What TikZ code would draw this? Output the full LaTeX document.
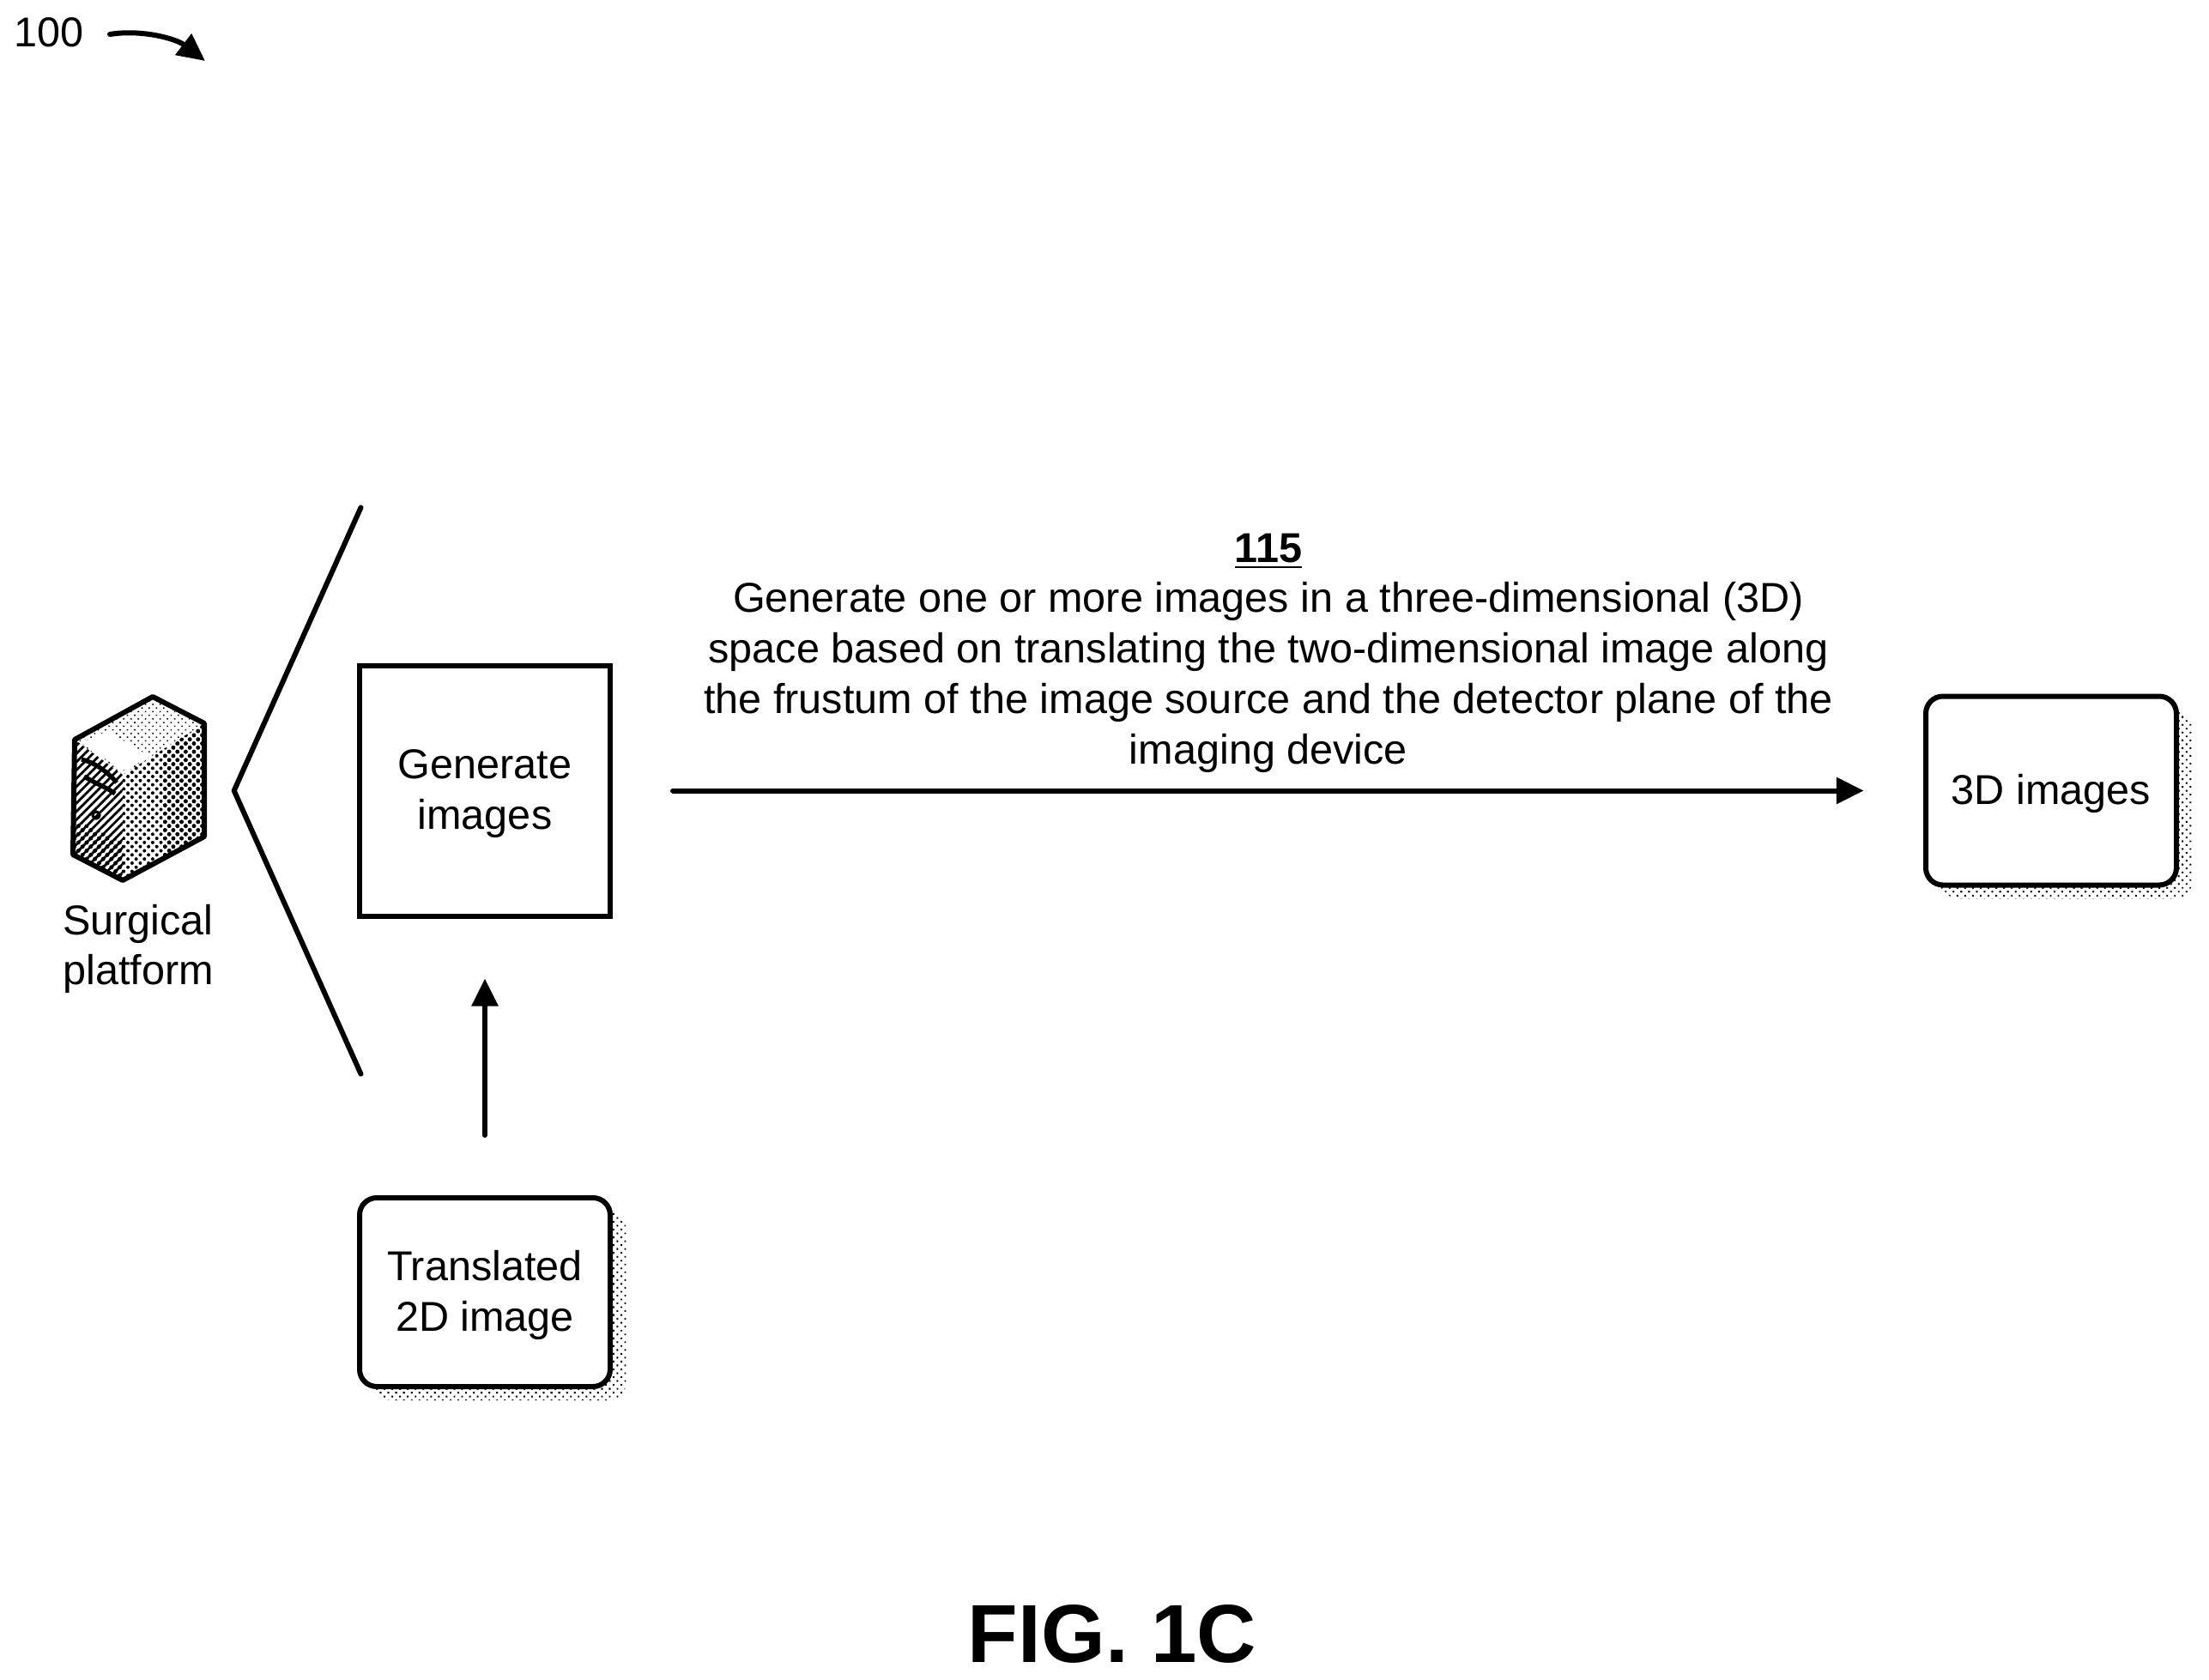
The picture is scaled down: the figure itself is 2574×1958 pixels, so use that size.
\documentclass[tikz,border=0pt]{standalone}
\usepackage{fontspec}
\setmainfont{Liberation Sans}
\usetikzlibrary{arrows.meta, patterns.meta, shadows}

\tikzset{
  lbl/.style={align=center, font=\fontsize{12.15}{14.7}\selectfont},
  boxlbl/.style={lbl, inner sep=0pt, text depth=0.9pt},
  halo/.style={pattern={Dots[distance=1.6pt, radius=0.33pt, angle=45]}},
  procbox/.style={draw, boxlbl, minimum width=73pt, minimum height=73pt},
  roundbox/.style={draw, boxlbl, fill=white, rounded corners=5pt, minimum width=73pt, minimum height=55pt,
    general shadow={shadow xshift=4.6pt, shadow yshift=-4pt, fill=none, halo},
    general shadow={shadow xshift=2.4pt, shadow yshift=-2.2pt, fill=none, halo}},
  flowarrow/.style={-{Triangle[length=8pt, width=7.5pt]}, line cap=round},
}

\begin{document}
\begin{tikzpicture}[x=0.25pt, y=-0.25pt, line width=1.5pt]

\useasboundingbox (0, 0) rectangle (2574, 1958);

% draw boxes
\node[procbox] (generate) at (565, 921.5) {Generate\\images};
\node[roundbox] (translated) at (565, 1506) {Translated\\2D image};
\node[roundbox] (result) at (2390, 921.5) {3D images};

% draw labels
\node[lbl] (refmain) at (57, 38) {100};
\node[lbl] (stepnote) at (1478, 761) {\underline{\textbf{115}}\\Generate one or more images in a three-dimensional (3D)\\space based on translating the two-dimensional image along\\the frustum of the image source and the detector plane of the\\imaging device};
\node[lbl] (platform) at (161, 1106) {Surgical\\platform};
\node[font=\fontsize{24}{28}\selectfont\bfseries] (figure) at (1296, 1904) {FIG. 1C};

% draw arrows
\draw[flowarrow, shorten <=17.5pt, shorten >=17.5pt] (translated) -- (generate);
\draw[flowarrow, shorten <=17.5pt, shorten >=17.3pt] (generate) -- (result);

% draw reference arrow
\coordinate (refstart) at (128, 40);
\coordinate (reftip) at (239, 71);
\draw[flowarrow] (refstart) .. controls (165, 34) and (205, 45) .. (reftip);

% draw bracket
\coordinate (brtop) at (420.5, 591.5);
\coordinate (brmid) at (272.7, 921.5);
\coordinate (brbot) at (420.5, 1251.7);
\draw[line cap=round, line join=round] (brtop) -- (brmid) -- (brbot);

% draw server faces
\coordinate (svtop) at (178, 812);
\coordinate (svleft) at (87, 862);
\coordinate (svright) at (238, 843);
\coordinate (svfront) at (143, 903);
\coordinate (svlow) at (85, 996);
\coordinate (svbot) at (143, 1026);
\coordinate (svrlow) at (238, 975);

\fill[pattern={Dots[distance=1.5pt, radius=0.28pt, angle=45]}] (svtop) -- (svright) -- (svfront) -- (svleft) -- cycle;
\fill[white] (95, 866) -- (125, 852) -- (175, 882) -- (143, 898) -- cycle;
\fill[pattern={Dots[distance=1.7pt, radius=0.5pt, angle=45]}] (svfront) -- (svright) -- (svrlow) -- (svbot) -- cycle;
\fill[pattern={Dots[distance=1.7pt, radius=0.62pt, angle=45]}] (190, 875) -- (svright) -- (svrlow) -- (190, 1002) -- cycle;
\fill[pattern={Lines[distance=1.7pt, line width=0.7pt, angle=45]}] (svleft) -- (svfront) -- (svbot) -- (svlow) -- cycle;
\fill[pattern={Dots[distance=1.7pt, radius=0.62pt, angle=45]}] (87, 955) -- (143, 982) -- (svbot) -- (svlow) -- cycle;

% draw server details
\draw[line width=1.3pt] (95, 885) .. controls (115, 890) and (130, 905) .. (136, 912);
\draw[line width=1.3pt] (98, 905) .. controls (115, 915) and (125, 918) .. (134, 925);
\draw[line width=0.8pt] (112, 950) circle (4);
\draw[line width=1.5pt, line join=round] (svtop) -- (svright) -- (svrlow) -- (svbot) -- (svlow) -- (svleft) -- cycle;

\end{tikzpicture}
\end{document}
